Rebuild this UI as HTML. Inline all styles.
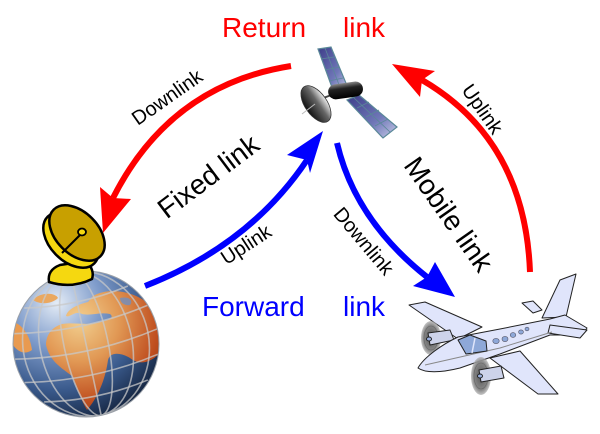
<!DOCTYPE html>
<html><head><meta charset="utf-8"><style>
html,body{margin:0;padding:0;background:#fff;}
svg{display:block;}
text{font-family:"Liberation Sans",Arial,sans-serif;}
</style></head><body>
<svg width="600" height="434" viewBox="0 0 600 434" xmlns="http://www.w3.org/2000/svg">
<defs>
<radialGradient id="gOcean" cx="0.3" cy="0.22" r="0.85">
<stop offset="0" stop-color="#e4ecf6"/>
<stop offset="0.35" stop-color="#7f9ccb"/>
<stop offset="0.7" stop-color="#3a5a8c"/>
<stop offset="1" stop-color="#14243f"/>
</radialGradient>
<radialGradient id="gLand" cx="0.3" cy="0.25" r="0.85" gradientUnits="objectBoundingBox">
<stop offset="0" stop-color="#f6d08a"/>
<stop offset="0.4" stop-color="#e89a50"/>
<stop offset="0.8" stop-color="#c8501c"/>
<stop offset="1" stop-color="#a03a10"/>
</radialGradient>
<clipPath id="globeClip"><circle cx="86" cy="344" r="73"/></clipPath>
<linearGradient id="gPanel" x1="0" y1="0" x2="1" y2="1">
<stop offset="0" stop-color="#3c3c88"/>
<stop offset="0.6" stop-color="#7078b8"/>
<stop offset="1" stop-color="#c8cce8"/>
</linearGradient>
<linearGradient id="gBody" x1="0" y1="0" x2="0" y2="1">
<stop offset="0" stop-color="#888"/>
<stop offset="0.35" stop-color="#222"/>
<stop offset="1" stop-color="#000"/>
</linearGradient>
<linearGradient id="gDish" x1="0" y1="0" x2="1" y2="0">
<stop offset="0" stop-color="#111"/>
<stop offset="0.6" stop-color="#666"/>
<stop offset="1" stop-color="#eee"/>
</linearGradient>
<radialGradient id="gProp" cx="0.5" cy="0.5" r="0.5">
<stop offset="0" stop-color="#555"/>
<stop offset="0.75" stop-color="#8a8a8a"/>
<stop offset="1" stop-color="#aaa" stop-opacity="0.7"/>
</radialGradient>
</defs>

<!-- Globe -->
<circle cx="86" cy="344" r="73" fill="url(#gOcean)"/>
<g clip-path="url(#globeClip)">
<path d="M93,296 C110,286 140,292 152,308 L160,335 L158,355 C150,362 140,366 130,358 C120,352 110,352 108,360 C106,375 100,395 87,410 C80,398 76,385 72,376 C62,368 50,362 46,345 C46,335 52,327 62,324 C75,322 88,326 100,322 C108,320 115,318 110,314 C100,312 90,316 82,314 C75,310 70,318 66,316 C68,308 80,304 88,302 Z" fill="url(#gLand)" opacity="0.95"/>
<path d="M14,322 C22,325 30,335 32,350 C25,355 18,352 13,345 Z" fill="#e89a50"/>
<path d="M33,300 C40,292 55,292 58,298 C52,304 40,305 33,300 Z" fill="#eaa860"/>
<path d="M120,298 C128,296 134,300 130,305 C125,306 120,303 120,298 Z" fill="#6f8fc0" opacity="0.8"/>
<g fill="none" stroke="#c8c8c8" stroke-opacity="0.75" stroke-width="1.6" transform="rotate(-12 86 344)">
<ellipse cx="86" cy="344" rx="22" ry="73"/>
<ellipse cx="86" cy="344" rx="46" ry="73"/>
<ellipse cx="86" cy="344" rx="63" ry="73"/>
<line x1="86" y1="268" x2="86" y2="420"/>
<path d="M13,344 Q86,358 159,344"/>
<path d="M18,319 Q86,332 154,319"/>
<path d="M33,296 Q86,306 139,296"/>
<path d="M18,369 Q86,382 154,369"/>
<path d="M33,392 Q86,402 139,392"/>
</g>
</g>
<circle cx="86" cy="344" r="73" fill="none" stroke="#9aa0a8" stroke-width="1"/>

<!-- Dish base -->
<path d="M49,282 Q47,270 60,265 L86,261 Q95,270 92,279 Q72,289 49,282 Z" fill="#f5d810" stroke="#000" stroke-width="2.5"/>
<!-- Dish bowl -->
<ellipse cx="71" cy="240" rx="33" ry="21" transform="rotate(45 71 240)" fill="#f5d810" stroke="#000" stroke-width="2.5"/>
<ellipse cx="77" cy="233" rx="33" ry="21" transform="rotate(45 77 233)" fill="#c8a000" stroke="#000" stroke-width="2.5"/>
<line x1="62" y1="253" x2="81" y2="234" stroke="#000" stroke-width="2"/>
<ellipse cx="82" cy="232" rx="4" ry="3.5" fill="#f5d810" stroke="#000" stroke-width="1.8"/>

<!-- Satellite -->
<g>
<polygon points="318,49 331,47 348,88 334,93" fill="url(#gPanel)" stroke="#5a8898" stroke-width="1.2"/>
<polygon points="347,100 359,95 397,127 383,138" fill="url(#gPanel)" stroke="#5a8898" stroke-width="1.2"/>
<g stroke="#5a8898" stroke-width="0.8">
<line x1="321" y1="59" x2="334" y2="57"/>
<line x1="325" y1="70" x2="339" y2="67"/>
<line x1="329" y1="81" x2="343" y2="78"/>
<line x1="325" y1="48" x2="341" y2="90"/>
<line x1="357" y1="108" x2="369" y2="102"/>
<line x1="366" y1="117" x2="379" y2="110"/>
<line x1="375" y1="126" x2="388" y2="119"/>
<line x1="353" y1="97" x2="390" y2="132"/>
</g>
<line x1="318" y1="100" x2="334" y2="94" stroke="#444" stroke-width="2"/>
<ellipse cx="316" cy="104" rx="11" ry="21" transform="rotate(-35 316 104)" fill="url(#gDish)" stroke="#333" stroke-width="0.8"/>
<line x1="315" y1="104" x2="302" y2="114" stroke="#bbb" stroke-width="1"/>
<rect x="328" y="83" width="35" height="15" rx="7.5" transform="rotate(-8 345 90)" fill="url(#gBody)"/>
</g>

<!-- Airplane -->
<g stroke="#222" stroke-width="1" stroke-linejoin="round">
<polygon points="522,303 533,301 542,310 533,313" fill="#e0e5fb"/>
<polygon points="409,305 425,302 482,327 458,339" fill="#e0e5fb"/>
<ellipse cx="431" cy="338" rx="10" ry="17" fill="url(#gProp)" stroke="none"/>
<ellipse cx="431" cy="338" rx="7" ry="12" fill="none" stroke="#666" stroke-width="0.6"/>
<path d="M428,333 L450,330 L454,340 L430,345 Z" fill="#cdd3ea"/>
<ellipse cx="429" cy="339" rx="2.5" ry="2" fill="#9ab0e0"/>
<polygon points="542,318 560,280 576,274 566,317" fill="#e0e5fb"/>
<path d="M418,368 C424,357 443,344 458,337 L500,329 L550,319 L565,315 L587,328 L582,335 L550,335 L500,354 L460,368 C440,373 425,373 418,368 Z" fill="#e0e5fb"/>
<polygon points="550,325 587,330 580,338 548,333" fill="#e0e5fb"/>
<path d="M425,365 L500,348 L552,332" fill="none" stroke="#888" stroke-width="1"/>
<polygon points="490,358 520,351 558,394 538,394" fill="#e0e5fb"/>
<ellipse cx="481" cy="376" rx="10" ry="19" fill="url(#gProp)" stroke="none"/>
<ellipse cx="481" cy="376" rx="7" ry="13" fill="none" stroke="#666" stroke-width="0.6"/>
<path d="M479,370 L501,366 L504,378 L481,382 Z" fill="#cdd3ea"/>
<ellipse cx="480" cy="376" rx="2.5" ry="2" fill="#9ab0e0"/>
<path d="M458,340 L470,335 L486,341 L487,351 L466,354 Z" fill="#8ea8d8"/>
<line x1="475" y1="338" x2="472" y2="353" stroke="#e0e5fb" stroke-width="1.5"/>
</g>
<g fill="#8ea8d8" stroke="#556" stroke-width="0.6">
<ellipse cx="496" cy="341" rx="3.2" ry="2.6"/>
<ellipse cx="505" cy="339" rx="3" ry="2.6"/>
<ellipse cx="513" cy="335" rx="2.8" ry="2.4"/>
<ellipse cx="521" cy="332" rx="2.4" ry="2.1"/>
<ellipse cx="527" cy="329" rx="2" ry="1.8"/>
</g>

<!-- Arrows -->
<path d="M291,66 Q170,85 113,198" fill="none" stroke="#ff0000" stroke-width="6"/>
<polygon points="103,233 100,187 113,198 131,199" fill="#ff0000"/>
<path d="M530,272 Q525,140 422,80" fill="none" stroke="#ff0000" stroke-width="6"/>
<polygon points="392,64 435,71 422,80 420,97" fill="#ff0000"/>
<path d="M145,286 Q250,245 307,160" fill="none" stroke="#0000ff" stroke-width="6"/>
<polygon points="323,131 287,155 307,160 310,173" fill="#0000ff"/>
<path d="M337,143 Q355,220 427,277" fill="none" stroke="#0000ff" stroke-width="6"/>
<polygon points="455,297 413,286 427,277 435,262" fill="#0000ff"/>

<!-- Labels -->
<text x="222" y="37" font-size="28" fill="#ff0000">Return</text>
<text x="343" y="37" font-size="28" fill="#ff0000">link</text>
<text x="202" y="316" font-size="28" fill="#0000ff">Forward</text>
<text x="343" y="316" font-size="28" fill="#0000ff">link</text>

<g transform="translate(167,97) rotate(-35)"><text x="0" y="7" font-size="20" text-anchor="middle">Downlink</text></g>
<g transform="translate(208,176) rotate(-37)"><text x="0" y="10" font-size="28" text-anchor="middle">Fixed link</text></g>
<g transform="translate(247,246) rotate(-33)"><text x="0" y="5" font-size="20" text-anchor="middle">Uplink</text></g>
<g transform="translate(364,241) rotate(50)"><text x="0" y="7" font-size="20" text-anchor="middle">Downlink</text></g>
<g transform="translate(449,214) rotate(55)"><text x="0" y="10" font-size="28" text-anchor="middle">Mobile link</text></g>
<g transform="translate(481,110) rotate(55)"><text x="0" y="5" font-size="20" text-anchor="middle">Uplink</text></g>
</svg>
</body></html>
